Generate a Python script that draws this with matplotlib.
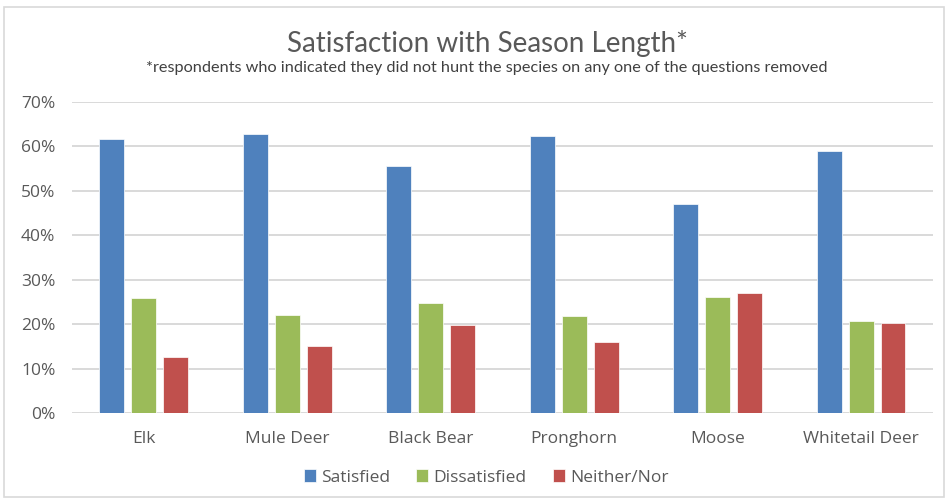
import matplotlib.pyplot as plt
import numpy as np
from matplotlib.patches import Rectangle
from matplotlib.ticker import PercentFormatter

species = ["Elk", "Mule Deer", "Black Bear", "Pronghorn", "Moose", "Whitetail Deer"]
satisfied = [61.6, 62.8, 55.6, 62.4, 47.1, 59.0]
dissatisfied = [25.8, 22.1, 24.7, 21.8, 26.0, 20.6]
neither = [12.5, 15.1, 19.7, 15.9, 26.9, 20.3]

series_names = ["Satisfied", "Dissatisfied", "Neither/Nor"]
colors = ["#4f81bd", "#9bbb59", "#c0504d"]

plt.rcParams['font.family'] = ['Open Sans', 'DejaVu Sans']

fig = plt.figure(figsize=(9.46, 4.99), dpi=100)
ax = fig.add_axes([0.0761, 0.1723, 0.9099, 0.6238])

# light frame round the whole chart
fig.patches.append(Rectangle((0.004, 0.004), 0.994, 0.982, transform=fig.transFigure,
                             fill=False, edgecolor="#d9d9d9", linewidth=1.2))

x = np.arange(len(species))
step = 0.223
width = 0.174
for i, (vals, name, c) in enumerate(zip([satisfied, dissatisfied, neither], series_names, colors)):
    ax.bar(x + (i - 1) * step, vals, width=width, color=c, label=name,
           edgecolor="white", linewidth=0.5, zorder=3)

ax.set_xlim(-0.5, len(species) - 0.5)
ax.set_ylim(0, 70)
ax.set_yticks(np.arange(0, 71, 10))
ax.yaxis.set_major_formatter(PercentFormatter(decimals=0))
ax.set_xticks(x)
ax.set_xticklabels(species)
ax.grid(axis="y", color="#d9d9d9", linewidth=1.4, zorder=0)
for s in ax.spines.values():
    s.set_visible(False)
ax.tick_params(axis="both", length=0, labelsize=12.5, colors="#595959")
ax.tick_params(axis="x", pad=13)
ax.tick_params(axis="y", pad=12)

fig.text(0.515, 0.913, "Satisfaction with Season Length*", ha="center", va="center",
         fontsize=20, color="#595959", family="Lato")
fig.text(0.515, 0.863, "*respondents who indicated they did not hunt the species on any one of the questions removed",
         ha="center", va="center", fontsize=11.7, color="#404040", family="Lato")

fig.legend(loc="center", bbox_to_anchor=(0.514, 0.043), ncol=3, frameon=False,
           fontsize=12.5, handlelength=0.7, handleheight=0.7, handletextpad=0.3,
           columnspacing=1.5, labelcolor="#595959")

fig.savefig("out.png", dpi=100)
